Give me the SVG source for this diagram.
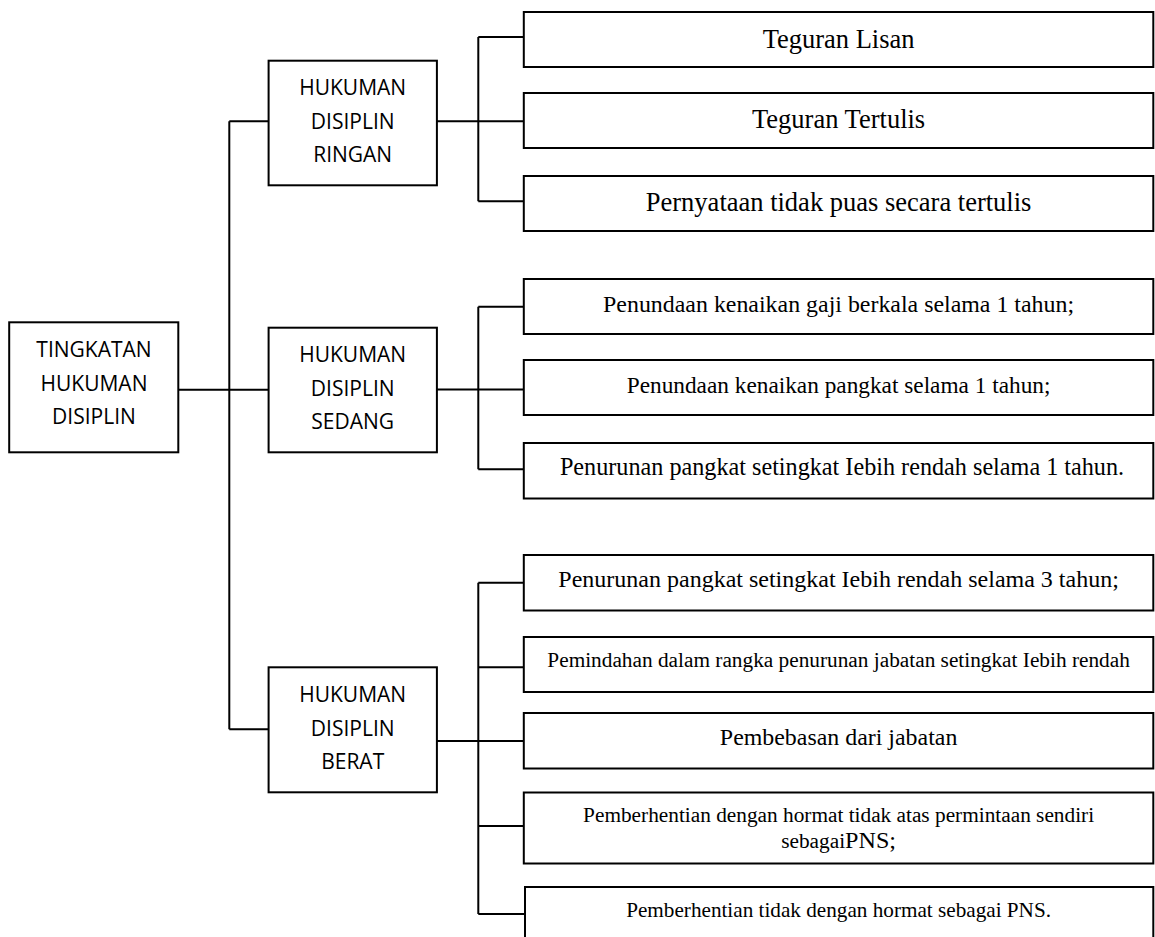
<svg xmlns="http://www.w3.org/2000/svg" width="1155" height="937" viewBox="0 0 1155 937">
<style>
  .box { fill: #ffffff; stroke: #000000; stroke-width: 2; }
  .con { fill: none; stroke: #000000; stroke-width: 2; }
  .sans { font-family: "Open Sans", "Liberation Sans", sans-serif; font-size: 21px; fill: #000000; text-anchor: middle; }
  .serif { font-family: "Liberation Serif", "Times New Roman", serif; fill: #000000; text-anchor: middle; }
</style>
<rect x="0" y="0" width="1155" height="937" fill="#ffffff"/>
<g id="connectors">
  <path class="con" d="M229.3 121.3 V729.3 M229.3 121.3 H268.6 M229.3 729.3 H268.6 M178.3 389.7 H268.6"/>
  <path class="con" d="M436.9 121.3 H478.3 M478.3 37 V201.3 M478.3 37 H523.8 M478.3 121.3 H523.8 M478.3 201.3 H523.8"/>
  <path class="con" d="M436.9 389.5 H523.8 M478.3 306.7 V469.3 M478.3 306.7 H523.8 M478.3 469.3 H523.8"/>
  <path class="con" d="M436.9 741 H527 M478.3 582.7 V914 M478.3 582.7 H523.8 M478.3 667.3 H523.8 M478.3 826 H526 M478.3 914 H525"/>
</g>
<g id="root">
  <rect class="box" x="9.2" y="322.3" width="169.1" height="130"/>
  <text class="sans" x="94" y="357.3">TINGKATAN</text>
  <text class="sans" x="94" y="391">HUKUMAN</text>
  <text class="sans" x="94" y="424">DISIPLIN</text>
</g>
<g id="ringan">
  <rect class="box" x="268.6" y="60.7" width="168.3" height="124.6"/>
  <text class="sans" x="352.7" y="95">HUKUMAN</text>
  <text class="sans" x="352.7" y="128.7">DISIPLIN</text>
  <text class="sans" x="352.7" y="162.3">RINGAN</text>
</g>
<g id="sedang">
  <rect class="box" x="268.6" y="327.7" width="168.3" height="124.6"/>
  <text class="sans" x="352.7" y="361.7">HUKUMAN</text>
  <text class="sans" x="352.7" y="395.7">DISIPLIN</text>
  <text class="sans" x="352.7" y="428.7">SEDANG</text>
</g>
<g id="berat">
  <rect class="box" x="268.6" y="667.3" width="168.3" height="125"/>
  <text class="sans" x="352.7" y="702.3">HUKUMAN</text>
  <text class="sans" x="352.7" y="735.7">DISIPLIN</text>
  <text class="sans" x="352.7" y="769">BERAT</text>
</g>
<g id="r1">
  <rect class="box" x="523.8" y="12" width="629.5" height="55"/>
  <text class="serif" x="838.6" y="47.7" font-size="26.5">Teguran Lisan</text>
</g>
<g id="r2">
  <rect class="box" x="523.8" y="93" width="629.5" height="55"/>
  <text class="serif" x="838.6" y="127.7" font-size="26.5">Teguran Tertulis</text>
</g>
<g id="r3">
  <rect class="box" x="523.8" y="176" width="629.5" height="55"/>
  <text class="serif" x="838.6" y="210.7" font-size="26.5">Pernyataan tidak puas secara tertulis</text>
</g>
<g id="s1">
  <rect class="box" x="523.8" y="279" width="629.5" height="55"/>
  <text class="serif" x="838.6" y="312.3" font-size="23.9">Penundaan kenaikan gaji berkala selama 1 tahun;</text>
</g>
<g id="s2">
  <rect class="box" x="523.8" y="360" width="629.5" height="55"/>
  <text class="serif" x="838.6" y="393.3" font-size="23.3">Penundaan kenaikan pangkat selama 1 tahun;</text>
</g>
<g id="s3">
  <rect class="box" x="523.8" y="443" width="629.5" height="55.5"/>
  <text class="serif" x="842" y="474.7" font-size="24.2">Penurunan pangkat setingkat Iebih rendah selama 1 tahun.</text>
</g>
<g id="b1">
  <rect class="box" x="523.8" y="555" width="629.5" height="55.5"/>
  <text class="serif" x="838.6" y="586.7" font-size="24">Penurunan pangkat setingkat Iebih rendah selama 3 tahun;</text>
</g>
<g id="b2">
  <rect class="box" x="523.8" y="637" width="629.5" height="55"/>
  <text class="serif" x="838.6" y="666.7" font-size="21.3">Pemindahan dalam rangka penurunan jabatan setingkat Iebih rendah</text>
</g>
<g id="b3">
  <rect class="box" x="523.8" y="713" width="629.5" height="55.5"/>
  <text class="serif" x="838.6" y="745" font-size="23.9">Pembebasan dari jabatan</text>
</g>
<g id="b4">
  <rect class="box" x="523.8" y="792.5" width="629.5" height="71"/>
  <text class="serif" x="838.6" y="821.7" font-size="21.3">Pemberhentian dengan hormat tidak atas permintaan sendiri</text>
  <text class="serif" x="838.6" y="848.3" font-size="21.3">sebagai<tspan font-size="24.1">PNS;</tspan></text>
</g>
<g id="b5">
  <path class="box" d="M525 938 V887 H1153.3 V938"/>
  <text class="serif" x="838.6" y="916.7" font-size="21.2">Pemberhentian tidak dengan hormat sebagai PNS.</text>
</g>
</svg>
